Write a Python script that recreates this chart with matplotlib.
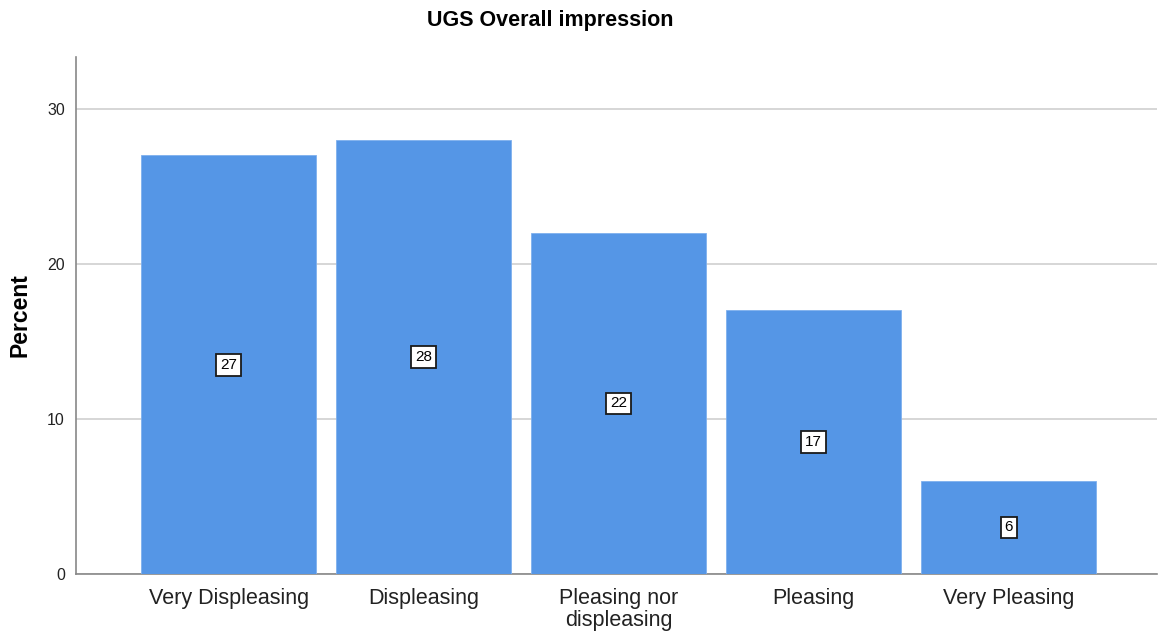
import matplotlib
matplotlib.use("Agg")
import matplotlib.pyplot as plt

categories = ["Very Displeasing", "Displeasing", "Pleasing nor\ndispleasing", "Pleasing", "Very Pleasing"]
percent = [27, 28, 22, 17, 6]
yticks = [0, 10, 20, 30]

plt.rcParams['font.family'] = ['Liberation Sans', 'DejaVu Sans']

fig = plt.figure(figsize=(11.61, 6.36), dpi=100)
ax = fig.add_axes([0.0655, 0.0975, 0.931, 0.813])

x = list(range(len(categories)))
ax.bar(x, percent, width=0.897, color='#5596E6', edgecolor='#7FB0EE', linewidth=0.6, zorder=3)
for xi, v in zip(x, percent):
    ax.text(xi, v / 2, str(v), ha='center', va='center', fontsize=11, zorder=4,
            bbox=dict(boxstyle='square,pad=0.25', facecolor='white', edgecolor='#1a1a1a', linewidth=1.3))

ax.set_xlim(-0.782, 4.76)
ax.set_ylim(0, 33.35)
ax.set_yticks(yticks)
ax.set_yticklabels([str(t) for t in yticks], fontsize=11.5, color='#222222')
ax.set_xticks(x)
ax.set_xticklabels(categories, fontsize=15.5, color='#222222', linespacing=1.05)
ax.tick_params(axis='both', length=0)
ax.tick_params(axis='x', pad=10)
ax.tick_params(axis='y', pad=8)
ax.yaxis.grid(True, color='#CFCFCF', linewidth=1.2, zorder=0)
ax.set_axisbelow(True)
for s in ['top', 'right']:
    ax.spines[s].set_visible(False)
for s in ['left', 'bottom']:
    ax.spines[s].set_color('#888888')
    ax.spines[s].set_linewidth(1.2)
ax.set_ylabel('Percent', fontsize=16.5, fontweight='bold', labelpad=11)
fig.text(0.474, 0.967, 'UGS Overall impression', ha='center', va='center', fontsize=15.5, fontweight='bold')

fig.savefig('out.png', dpi=100, facecolor='white')
